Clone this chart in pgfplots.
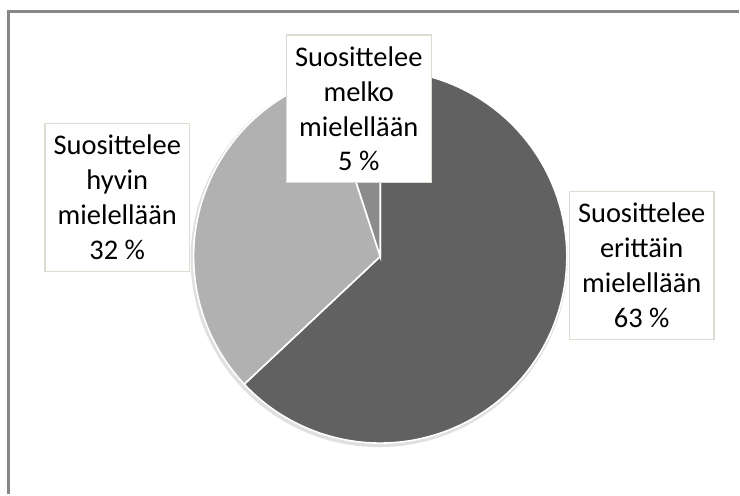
\documentclass[border=0pt]{standalone}
\usepackage{pgfplots}
\pgfplotsset{compat=1.18}
\usepackage{fontspec}
\setmainfont{Carlito}
\definecolor{sA}{HTML}{616161}
\definecolor{sB}{HTML}{B1B1B1}
\definecolor{sC}{HTML}{8B8B8B}
\definecolor{framec}{HTML}{878787}
\definecolor{boxc}{HTML}{DEDBD0}
\begin{document}
\begin{tikzpicture}
% data (percent)
\def\va{63}% Suosittelee erittäin mielellään
\def\vb{32}% Suosittelee hyvin mielellään
\def\vc{5}%  Suosittelee melko mielellään
\pgfmathsetmacro{\aA}{90}
\pgfmathsetmacro{\aB}{\aA-3.6*\va}
\pgfmathsetmacro{\aC}{\aB-3.6*\vb}
\pgfmathsetmacro{\aD}{\aC-3.6*\vc}
\def\R{187}
\begin{axis}[x=1pt, y=1pt, xmin=-381, xmax=359, ymin=-238, ymax=257,
  hide axis, scale only axis, clip=false]
  \path (axis cs:-381,-238) rectangle (axis cs:359,257);
  \draw[framec, line width=3pt, line join=miter] (axis cs:-372,-238) -- (axis cs:-372,245.5) -- (axis cs:359,245.5);
  \fill[black!12] (axis cs:-1,-2) circle[radius=189pt];
  \addplot[draw=white, line width=1.6pt, fill=sA, data cs=polar, domain=\aB:\aA, samples=140] (x, \R) -- (axis cs:0,0) -- cycle;
  \addplot[draw=white, line width=1.6pt, fill=sB, data cs=polar, domain=\aC:\aB, samples=90] (x, \R) -- (axis cs:0,0) -- cycle;
  \addplot[draw=white, line width=1.6pt, fill=sC, data cs=polar, domain=\aD:\aC, samples=20] (x, \R) -- (axis cs:0,0) -- cycle;
  \tikzset{lbl/.style={draw=boxc, fill=white, line width=1.2pt, align=center,
    minimum width=145pt, minimum height=148pt, inner sep=0pt,
    font=\fontsize{28.5}{35}\selectfont}}
  \node[lbl] at (axis cs:-21.5,148) {Suosittelee\\melko\\mielellään\\\vc{} \%};
  \node[lbl] at (axis cs:-263.5,59) {Suosittelee\\hyvin\\mielellään\\\vb{} \%};
  \node[lbl] at (axis cs:262,-9) {Suosittelee\\erittäin\\mielellään\\\va{} \%};
\end{axis}
\end{tikzpicture}
\end{document}
